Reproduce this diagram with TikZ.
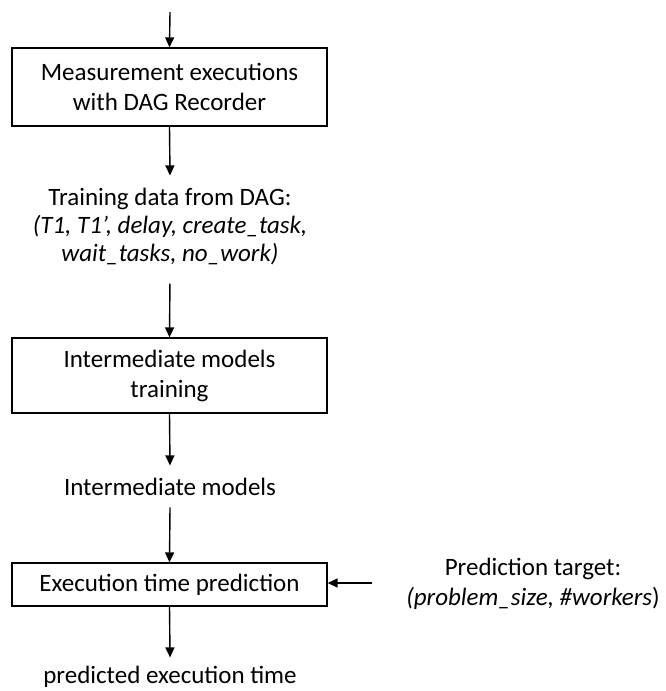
\documentclass[tikz,border=0pt]{standalone}
\usepackage{fontspec}
\setmainfont{Carlito}
\usetikzlibrary{arrows.meta}
\begin{document}
\begin{tikzpicture}[x=1pt,y=-1pt,
  every node/.style={font=\fontsize{25}{30}\selectfont},
  procbox/.style={draw=black, line width=1.3pt, minimum width=315pt, inner sep=0pt, align=center},
  txt/.style={align=center, inner xsep=0pt, inner ysep=12pt, anchor=base},
  arr/.style={draw=black, line width=1.4pt, -{Triangle[width=9pt,length=10pt]}}]
\useasboundingbox (0,0) rectangle (666,691);
\coordinate (start) at (170,12);
\node[procbox, minimum height=78pt] (b1) at (169.5,87) {Measurement executions\\with DAG Recorder};
\node[txt, font=\fontsize{25}{28}\selectfont] (t1) at (170,261) {Training data from DAG:\\\textit{(T1, T1’, delay, create\_task,}\\\textit{wait\_tasks, no\_work)}};
\node[procbox, minimum height=75pt] (b2) at (169.5,375.5) {Intermediate models\\training};
\node[txt] (im) at (170,495) {Intermediate models};
\node[procbox, minimum height=43pt] (b3) at (169.5,584.5) {Execution time prediction};
\node[txt] (pet) at (170,683) {predicted execution time};
\node[txt] (pt) at (533,605) {Prediction target:\\\textit{(problem\_size, \#workers})};
\coordinate (ptstart) at (372,583);
\draw[arr] (start) -- (b1.north);
\draw[arr] (b1.south) -- (t1.north);
\draw[arr, shorten <=7pt] (t1.south) -- (b2.north);
\draw[arr] (b2.south) -- (im.north);
\draw[arr] (im.south) -- (b3.north);
\draw[arr, shorten >=-4pt] (b3.south) -- (pet.north);
\draw[arr] (ptstart) -- (ptstart -| b3.east);
\end{tikzpicture}
\end{document}
